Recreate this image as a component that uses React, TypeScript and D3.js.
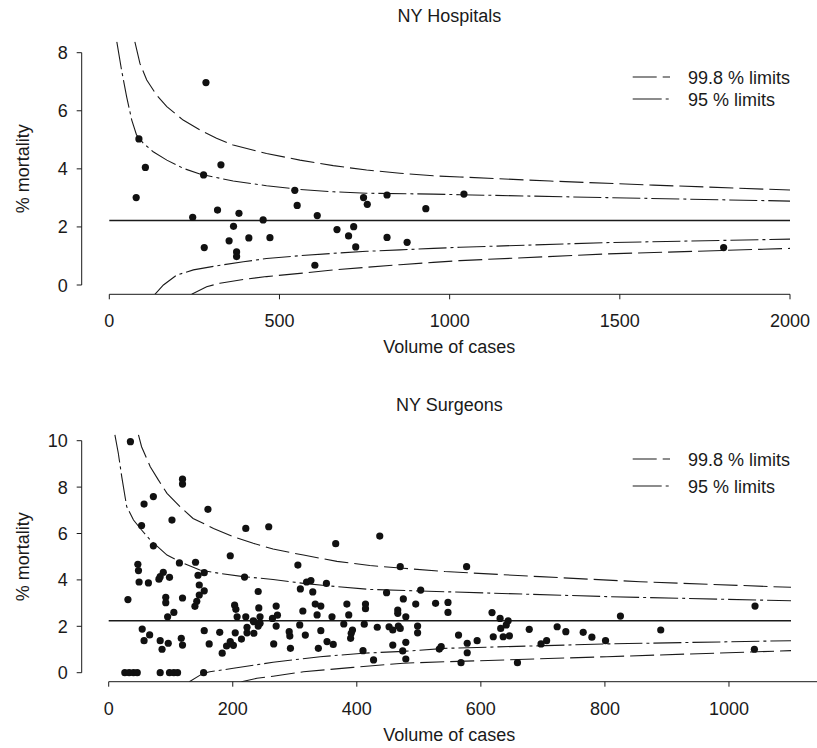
import React from 'react';
import * as d3 from 'd3';

// ---------- DATA ----------
const hospTitle = 'NY Hospitals';
const surgTitle = 'NY Surgeons';
const xLabel = 'Volume of cases';
const yLabel = '% mortality';
const legendLabels = ['99.8 % limits', '95 % limits'];

const hospXTicks = [0, 500, 1000, 1500, 2000];
const hospYTicks = [0, 2, 4, 6, 8];
const surgXTicks = [0, 200, 400, 600, 800, 1000];
const surgYTicks = [0, 2, 4, 6, 8, 10];

const hospMean = 2.22;
const surgMean = 2.24;

// hospitals: volume, % mortality
const hospVolume = [284, 87, 106, 328, 277, 79, 545, 552, 747, 758, 816, 930, 245, 318, 381, 452, 611, 365, 279, 352, 410, 472, 374, 374, 669, 718, 703, 724, 816, 875, 604, 1042, 1805];
const hospMortality = [6.97, 5.03, 4.05, 4.14, 3.79, 3.01, 3.26, 2.74, 3.01, 2.78, 3.10, 2.63, 2.33, 2.58, 2.47, 2.24, 2.39, 2.02, 1.29, 1.52, 1.62, 1.63, 1.14, 0.98, 1.91, 2.01, 1.69, 1.31, 1.64, 1.47, 0.68, 3.13, 1.29];

// hospital control limits [volume, %]
const hospUpper998 = [[75, 8.38], [90, 7.63], [110, 7.06], [139, 6.54], [169, 6.14], [217, 5.68], [266, 5.34], [315, 5.05], [364, 4.82], [462, 4.53], [560, 4.30], [658, 4.11], [756, 3.96], [854, 3.85], [952, 3.76], [1030, 3.72], [1295, 3.58], [1598, 3.44], [2000, 3.27]];
const hospUpper95 = [[22, 8.38], [36, 7.40], [51, 6.48], [66, 5.68], [80, 5.17], [100, 4.88], [129, 4.59], [169, 4.30], [217, 4.02], [266, 3.82], [364, 3.58], [462, 3.42], [560, 3.29], [658, 3.21], [756, 3.16], [952, 3.13], [1030, 3.11], [1461, 3.01], [2000, 2.89]];
const hospLower95 = [[134, -0.32], [159, 0.0], [198, 0.34], [247, 0.52], [315, 0.66], [394, 0.80], [462, 0.91], [560, 1.01], [658, 1.09], [756, 1.16], [854, 1.21], [952, 1.26], [1030, 1.30], [1461, 1.46], [2000, 1.58]];
const hospLower998 = [[242, -0.32], [286, -0.06], [325, 0.06], [394, 0.19], [462, 0.29], [560, 0.40], [658, 0.52], [756, 0.61], [854, 0.70], [952, 0.78], [1030, 0.84], [1461, 1.07], [2000, 1.26]];

// surgeons: volume, % mortality
const surgVolume = [
  35, 119, 119, 72, 57, 160, 102, 53, 221, 258, 72, 196, 47, 48, 114, 140, 88, 83, 81, 98, 144, 154, 219, 49, 64, 146, 154, 146, 31, 92, 92, 119, 142, 139, 241, 242, 203, 205, 270, 95, 105,
  207, 221, 233, 244, 264, 272,
  54, 66, 57, 83, 96, 86, 117, 119, 154, 162, 179, 183, 190, 196, 201, 204, 214, 223, 223, 234, 234, 241, 244, 266, 270,
  26, 33, 40, 46, 83, 98, 105, 111, 153,
  437, 366, 305, 470, 319, 326, 309, 329, 351, 448, 503, 475, 313, 333, 342, 336, 360, 384, 387, 414, 414, 466, 466, 479, 495, 527, 547, 547,
  308, 291, 292, 293, 317, 342, 338, 352, 362, 379, 393, 391, 390, 412, 433, 452, 458, 470, 467, 458, 479, 474, 498, 498, 410, 427, 479, 533, 536,
  618, 631, 644, 641, 632, 620, 636, 646, 678, 723, 737, 765, 779, 801, 825, 890, 1042, 1041, 564, 578, 578, 594, 568, 659, 697, 706,
  577,
];
const surgMortality = [
  9.96, 8.34, 8.13, 7.59, 7.27, 7.04, 6.58, 6.34, 6.22, 6.29, 5.47, 5.04, 4.67, 4.40, 4.73, 4.76, 4.33, 4.14, 4.03, 4.11, 4.20, 4.31, 4.12, 3.91, 3.87, 3.78, 3.53, 3.35, 3.15, 3.25, 3.02, 3.22, 3.08, 2.86, 3.50, 2.79, 2.91, 2.73, 2.87, 2.41, 2.60,
  2.41, 2.41, 2.24, 2.41, 2.34, 2.48,
  1.88, 1.63, 1.38, 1.38, 1.27, 1.01, 1.48, 1.19, 1.81, 1.24, 1.74, 0.84, 1.15, 1.34, 1.18, 1.72, 1.45, 1.96, 1.72, 2.20, 1.70, 2.01, 2.13, 1.24, 2.01,
  0, 0, 0, 0, 0, 0, 0, 0, 0,
  5.89, 5.56, 4.64, 4.57, 3.91, 3.97, 3.61, 3.48, 3.85, 3.45, 3.56, 3.18, 2.66, 2.96, 2.87, 2.49, 2.41, 2.96, 2.49, 2.96, 2.76, 2.70, 2.56, 2.41, 2.96, 2.99, 3.03, 2.60,
  2.06, 1.77, 1.58, 1.05, 1.62, 1.81, 1.05, 1.34, 1.22, 2.10, 1.84, 1.70, 1.48, 2.09, 1.96, 1.98, 1.84, 1.91, 2.01, 1.19, 1.31, 0.94, 2.01, 1.72, 0.95, 0.55, 0.59, 1.02, 1.12,
  2.59, 2.34, 2.24, 2.06, 1.91, 1.55, 1.55, 1.59, 1.87, 1.98, 1.77, 1.74, 1.53, 1.38, 2.44, 1.84, 2.87, 1.01, 1.62, 1.27, 0.86, 1.38, 0.43, 0.43, 1.24, 1.38,
  4.57,
];

// surgeon control limits [volume, %]
const surgUpper998 = [[48, 10.25], [53, 9.74], [67, 8.88], [80, 8.31], [94, 7.73], [115, 7.16], [136, 6.65], [169, 6.22], [201, 5.86], [233, 5.58], [265, 5.33], [314, 5.07], [368, 4.80], [421, 4.62], [475, 4.50], [542, 4.36], [695, 4.14], [857, 3.92], [1100, 3.68]];
const surgUpper95 = [[10, 10.25], [15.5, 9.46], [21, 8.45], [29, 7.16], [40, 6.58], [53, 6.15], [67, 5.72], [94, 5.07], [120, 4.72], [147, 4.43], [179, 4.28], [217, 4.14], [265, 4.02], [314, 3.85], [368, 3.71], [421, 3.59], [503, 3.52], [542, 3.49], [803, 3.28], [1100, 3.10]];
const surgLower95 = [[130, -0.39], [152, -0.03], [163, 0.04], [201, 0.19], [265, 0.45], [341, 0.69], [410, 0.84], [475, 0.92], [542, 1.05], [803, 1.24], [1100, 1.38]];
const surgLower998 = [[214, -0.39], [239, -0.24], [265, -0.15], [314, 0.04], [394, 0.23], [475, 0.41], [542, 0.47], [803, 0.69], [1100, 0.95]];

// ---------- STYLE ----------
const FONT = '"Liberation Sans", Arial, Helvetica, sans-serif';
const FS = 18;
const INK = '#1a1a1a';
const DASH_998 = '24,6';
const DASH_95 = '28,4,3,4';

type PanelProps = {
  id: string;
  title: string;
  titleY: number;
  xDomain: [number, number];
  xRange: [number, number];
  yDomain: [number, number];
  yRange: [number, number];
  clipTop: number;
  axisX: number; // y position of x-axis line
  axisY: number; // x position of y-axis line
  xAxisEnd: number;
  xTicks: number[];
  yTicks: number[];
  mean: number;
  volume: number[];
  mortality: number[];
  upper998: number[][];
  upper95: number[][];
  lower95: number[][];
  lower998: number[][];
  legendY: [number, number];
};

function Panel(p: PanelProps) {
  const x = d3.scaleLinear().domain(p.xDomain).range(p.xRange);
  const y = d3.scaleLinear().domain(p.yDomain).range(p.yRange);
  const line = d3
    .line<number[]>()
    .x((d) => x(d[0]))
    .y((d) => y(d[1]));
  const clipId = `clip-${p.id}`;
  const midX = (p.axisY + 817) / 2;
  const midY = (y(p.yDomain[0]) + y(p.yDomain[1])) / 2;
  const legX0 = 632.7;
  const legX1 = 670;
  const legText = 688;
  return (
    <g>
      <defs>
        <clipPath id={clipId}>
          <rect x={p.axisY} y={p.clipTop} width={817 - p.axisY} height={p.axisX - p.clipTop} />
        </clipPath>
      </defs>
      <text x={midX} y={p.titleY} textAnchor="middle" fontFamily={FONT} fontSize={FS} fill={INK}>
        {p.title}
      </text>
      {/* mean line */}
      <line x1={x(p.xDomain[0])} x2={x(p.xDomain[1])} y1={y(p.mean)} y2={y(p.mean)} stroke={INK} strokeWidth={1.6} />
      {/* limits */}
      <g clipPath={`url(#${clipId})`} fill="none" stroke={INK} strokeWidth={1.1}>
        <path d={line(p.upper998) || ''} strokeDasharray={DASH_998} />
        <path d={line(p.lower998) || ''} strokeDasharray={DASH_998} />
        <path d={line(p.upper95) || ''} strokeDasharray={DASH_95} />
        <path d={line(p.lower95) || ''} strokeDasharray={DASH_95} />
      </g>
      {/* points */}
      <g fill="#111">
        {p.volume.map((v, i) => (
          <circle key={i} cx={x(v)} cy={y(p.mortality[i])} r={3.6} />
        ))}
      </g>
      {/* y axis */}
      <g stroke={INK} strokeWidth={1}>
        <line x1={p.axisY} x2={p.axisY} y1={y(p.yTicks[0])} y2={y(p.yTicks[p.yTicks.length - 1])} />
        {p.yTicks.map((t) => (
          <line key={t} x1={p.axisY - 5} x2={p.axisY} y1={y(t)} y2={y(t)} />
        ))}
      </g>
      {p.yTicks.map((t) => (
        <text key={t} x={p.axisY - 14} y={y(t) + 6.5} textAnchor="end" fontFamily={FONT} fontSize={FS} fill={INK}>
          {t}
        </text>
      ))}
      <text
        transform={`translate(29,${midY}) rotate(-90)`}
        textAnchor="middle"
        fontFamily={FONT}
        fontSize={FS}
        fill={INK}
      >
        {yLabel}
      </text>
      {/* x axis */}
      <g stroke={INK} strokeWidth={1}>
        <line x1={x(p.xTicks[0])} x2={p.xAxisEnd} y1={p.axisX} y2={p.axisX} />
        {p.xTicks.map((t) => (
          <line key={t} x1={x(t)} x2={x(t)} y1={p.axisX} y2={p.axisX + 5} />
        ))}
      </g>
      {p.xTicks.map((t) => (
        <text key={t} x={x(t)} y={p.axisX + 33} textAnchor="middle" fontFamily={FONT} fontSize={FS} fill={INK}>
          {t}
        </text>
      ))}
      <text x={midX} y={p.axisX + 59} textAnchor="middle" fontFamily={FONT} fontSize={FS} fill={INK}>
        {xLabel}
      </text>
      {/* legend */}
      <g stroke={INK} strokeWidth={1.1}>
        <line x1={legX0} x2={legX1} y1={p.legendY[0]} y2={p.legendY[0]} strokeDasharray={DASH_998} />
        <line x1={legX0} x2={legX1} y1={p.legendY[1]} y2={p.legendY[1]} strokeDasharray="29,4,3,4" />
      </g>
      {legendLabels.map((l, i) => (
        <text key={l} x={legText} y={p.legendY[i] + 6.5} fontFamily={FONT} fontSize={FS} fill={INK}>
          {l}
        </text>
      ))}
    </g>
  );
}

export default function App() {
  return (
    <svg
      width={817}
      height={748}
      viewBox="0 0 817 748"
      style={{ position: 'absolute', left: 0, top: 0, background: '#fff' }}
    >
      <rect x={0} y={0} width={817} height={748} fill="#fff" />
      <Panel
        id="hosp"
        title={hospTitle}
        titleY={22}
        xDomain={[0, 2000]}
        xRange={[109.3, 790]}
        yDomain={[0, 8]}
        yRange={[285, 52.7]}
        clipTop={41.7}
        axisX={294.3}
        axisY={81.7}
        xAxisEnd={790}
        xTicks={hospXTicks}
        yTicks={hospYTicks}
        mean={hospMean}
        volume={hospVolume}
        mortality={hospMortality}
        upper998={hospUpper998}
        upper95={hospUpper95}
        lower95={hospLower95}
        lower998={hospLower998}
        legendY={[77, 99]}
      />
      <Panel
        id="surg"
        title={surgTitle}
        titleY={410.7}
        xDomain={[0, 1100]}
        xRange={[108.7, 791]}
        yDomain={[0, 10]}
        yRange={[672.7, 440.7]}
        clipTop={431.4}
        axisX={681.7}
        axisY={81.7}
        xAxisEnd={817}
        xTicks={surgXTicks}
        yTicks={surgYTicks}
        mean={surgMean}
        volume={surgVolume}
        mortality={surgMortality}
        upper998={surgUpper998}
        upper95={surgUpper95}
        lower95={surgLower95}
        lower998={surgLower998}
        legendY={[459, 486]}
      />
    </svg>
  );
}
